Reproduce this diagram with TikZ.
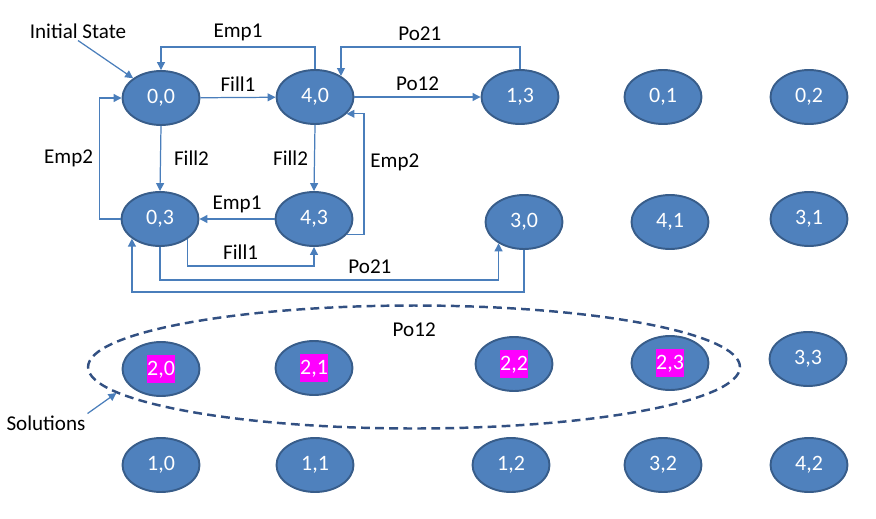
\documentclass[tikz,border=0pt]{standalone}
\usepackage{fontspec}
\setmainfont{Carlito}
\usetikzlibrary{arrows.meta, shapes.geometric}
\definecolor{stateblue}{RGB}{79,129,189}
\definecolor{stateedge}{RGB}{56,93,138}
\definecolor{linkblue}{RGB}{74,126,187}
\definecolor{ringblue}{RGB}{50,80,130}
\definecolor{hlmagenta}{RGB}{255,0,255}
\newcommand{\hilite}[1]{{\fboxsep=0pt\colorbox{hlmagenta}{\rule[-4pt]{0pt}{15.5pt}#1}}}

\begin{document}
\begin{tikzpicture}[x=0.02cm, y=-0.02cm,
    every node/.style={font=\fontsize{12}{14}\selectfont},
    st/.style={ellipse, draw=stateedge, line width=1.1pt, fill=stateblue,
      text=white, inner sep=0pt, minimum width=1.54cm, minimum height=1.08cm,
      font=\fontsize{12.5}{14}\selectfont},
    link/.style={linkblue, text=black, line width=0.7pt, -{Triangle[length=4.5pt,width=4.5pt]}}]
   \useasboundingbox (0,0) rectangle (876,518);

   \draw[]
    (161,98) node[st](s00) {0,0}
    (315,97) node[st](s40) {4,0}
    (520,97) node[st](s13) {1,3}
    (663,97) node[st](s01) {0,1}
    (809,97) node[st](s02) {0,2}
    (160,219) node[st](s03) {0,3}
    (314,219) node[st](s43) {4,3}
    (524,222) node[st](s30) {3,0}
    (670,222) node[st](s41) {4,1}
    (809,219) node[st](s31) {3,1}
    (161,369) node[st](s20) {\hilite{2,0}}
    (314,368) node[st](s21) {\hilite{2,1}}
    (514,364) node[st](s22) {\hilite{2,2}}
    (670,363) node[st](s23) {\hilite{2,3}}
    (808,359) node[st](s33) {3,3}
    (161,465) node[st](s10) {1,0}
    (315,465) node[st](s11) {1,1}
    (511,465) node[st](s12) {1,2}
    (663,465) node[st](s32) {3,2}
    (809,465) node[st](s42) {4,2};

   \draw
    (78,31) node[inner sep=1pt](init) {Initial State}
    (46,423) node[inner sep=1pt](sol) {Solutions};

   %moves
   \draw[link] (s00) -- node[above] {Fill1} (s40);
   \draw[link] (s40) -- node[above] {Po12} (s13);
   \draw[link] (s40.north) -- ++(0,-22) -| node[pos=0.25, above] {Emp1} (s00.north);
   \draw[link] (s13.north) -- ++(0,-22) -| node[pos=0.28, above] {Po21} (s40.39);
   \draw[link] (s00.south) -- node[right=4pt] {Fill2} (s03.north);
   \draw[link] (s40.south) -- node[left] {Fill2} (s43.north);
   \draw[link] (s43) -- node[above] {Emp1} (s03);
   \draw[link] (s03.west) -- ++(-21,0) |- node[pos=0.25, left] {Emp2} (s00.west);
   \draw[link] (s43.-25) -- ++(17,0) |- node[pos=0.3, right] {Emp2} (s40.-28);
   \draw[link] (s03.-36) -- (s03.-36 |- 0,266) -| node[pos=0.21, above] {Fill1} (s43.south);
   \draw[link] (s03.south) -- (s03.south |- 0,280) -| node[pos=0.31, above] {Po21} (s30.-140);
   \draw[link] (s30.south) -- (s30.south |- 0,292) -| node[pos=0.14, below=14pt] {Po12} (s03.-145);

   %solutions
   \node[ellipse, draw=ringblue, line width=1.4pt, dash pattern=on 5pt off 3pt,
     minimum width=13.04cm, minimum height=2.46cm] (ring) at (414,367) {};
   \draw[link] (init.south) -- (s00.north west);
   \draw[link] (sol.north east) -- (ring.185);

\end{tikzpicture}
\end{document}
